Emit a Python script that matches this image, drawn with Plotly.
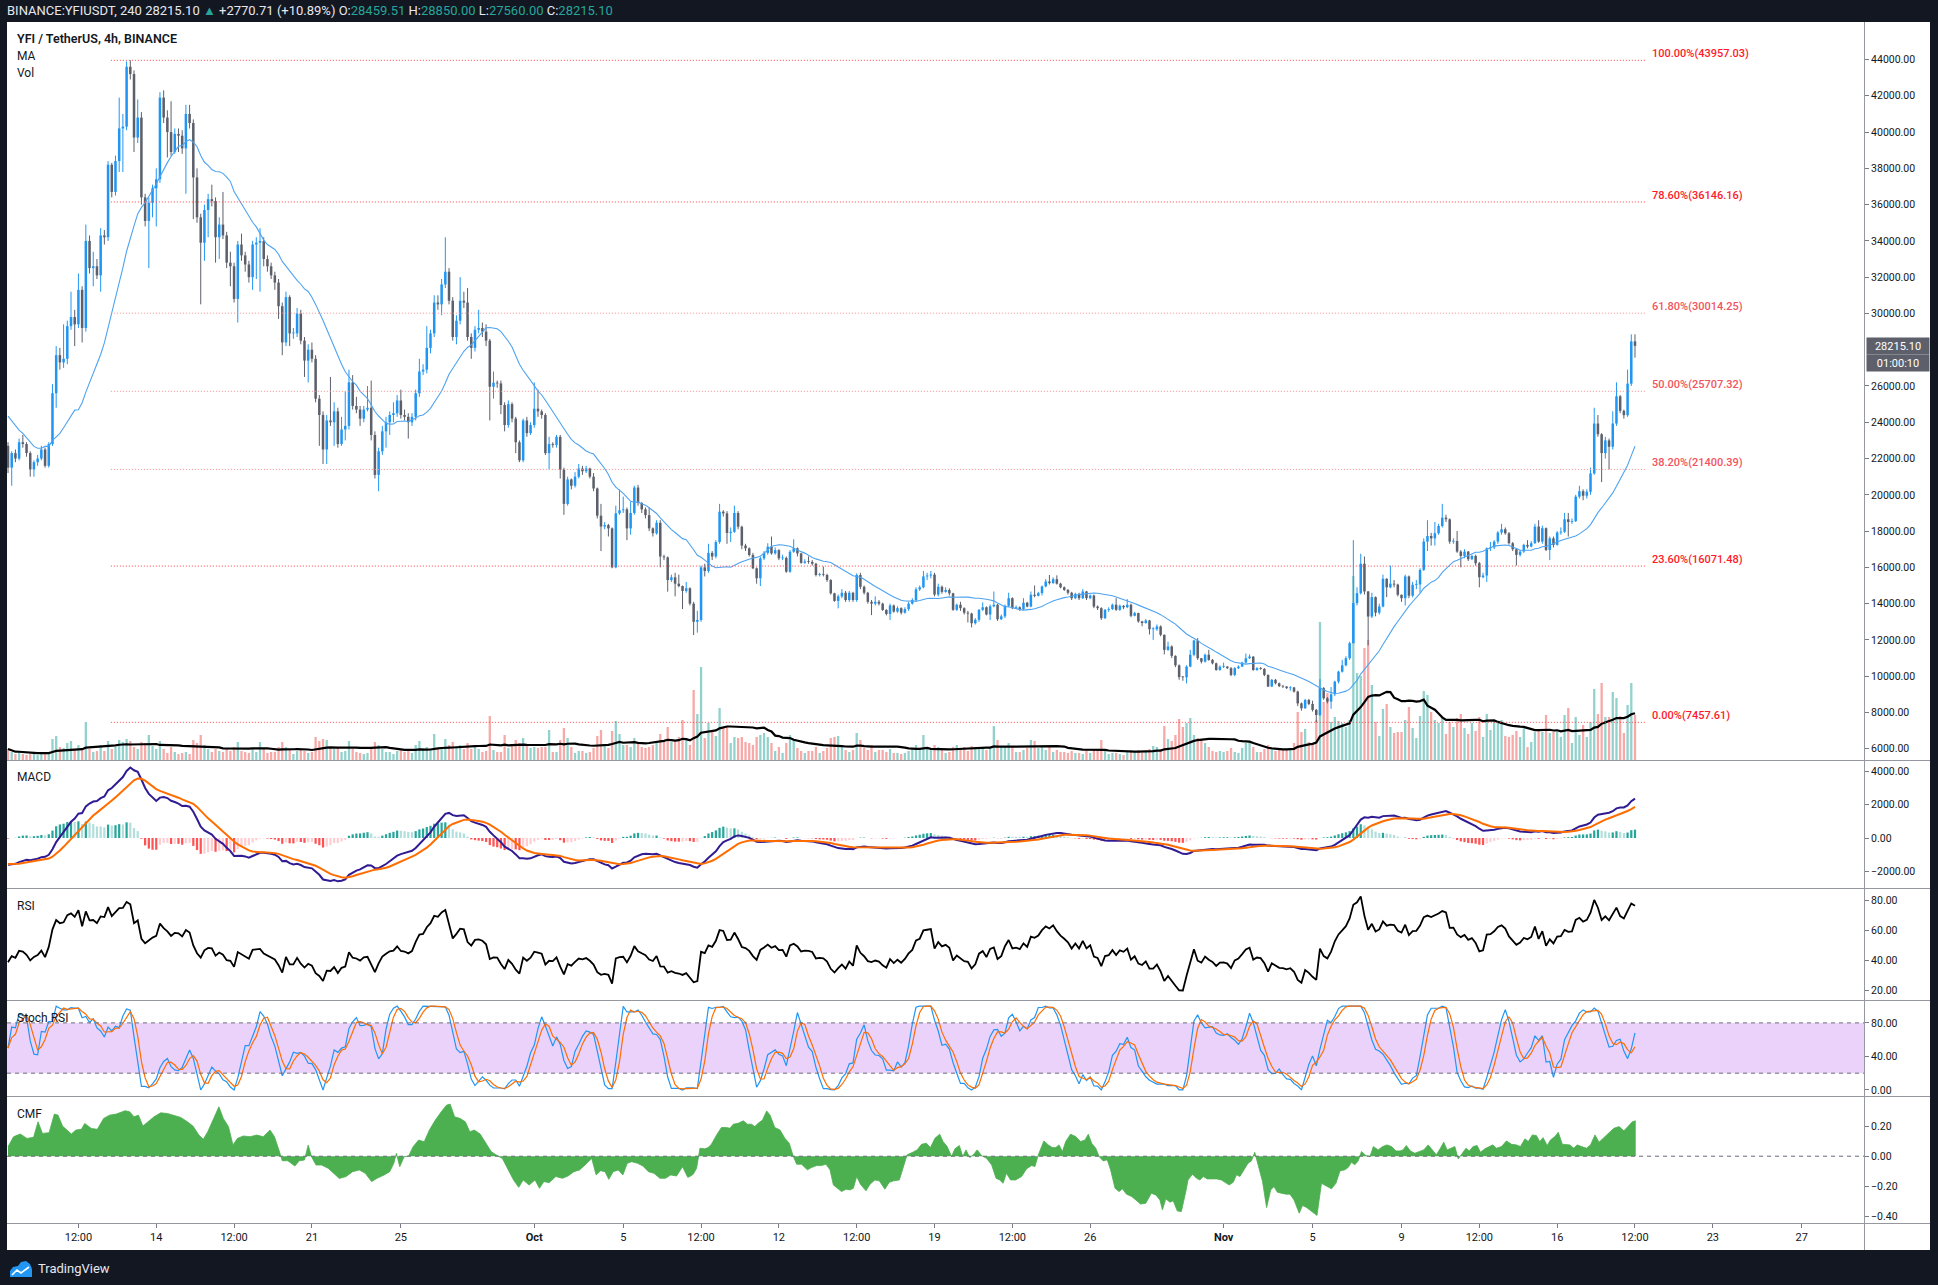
import numpy as np
import pandas as pd
import plotly.graph_objects as go

W, H = 1938, 1285

# ---------------- data ----------------
start_time = "2020-09-07 08:00"      # first visible 4h bar
first_open_k = 22.7

closes_k = [
    21.5, 22.3, 22.0, 22.9, 22.8, 22.3, 21.4, 21.8, 22.0, 22.5,
    21.6, 22.8, 25.6, 27.7, 27.3, 27.5, 29.3, 29.8, 29.4, 31.3,
    29.2, 34.0, 32.5, 32.6, 32.1, 34.3, 34.2, 38.2, 36.7, 38.4,
    40.2, 40.3, 43.6, 43.2, 39.7, 40.8, 36.4, 35.1, 36.1, 36.9,
    37.4, 41.9, 40.8, 40.0, 38.9, 39.9, 39.8, 39.1, 41.0, 40.5,
    37.5, 35.3, 33.9, 35.7, 36.3, 36.2, 34.2, 34.9, 34.3, 32.8,
    32.6, 30.8, 33.8, 33.2, 32.7, 32.0, 33.8, 33.9, 34.0, 33.0,
    32.6, 32.1, 31.7, 30.4, 28.4, 30.9, 28.9, 28.9, 30.0, 28.5,
    27.4, 28.0, 27.5, 25.3, 24.4, 22.5, 24.1, 24.0, 24.6, 22.8,
    23.6, 23.8, 26.2, 24.9, 24.7, 24.2, 24.7, 24.8, 23.3, 21.1,
    22.4, 23.5, 24.0, 24.4, 24.5, 25.2, 24.4, 24.3, 24.0, 24.3,
    25.6, 26.8, 26.9, 28.1, 28.9, 30.6, 30.5, 31.6, 32.3, 30.7,
    28.7, 29.6, 30.7, 30.6, 28.7, 28.1, 29.1, 29.2, 29.0, 28.5,
    25.96, 26.18, 26.14, 24.95, 23.85, 25.0, 24.2, 22.9, 21.9, 24.1,
    23.4, 23.85, 24.75, 24.6, 24.4, 22.3, 22.8, 22.75, 23.2, 21.4,
    19.5, 20.85, 20.5, 21.0, 21.45, 21.3, 21.45, 21.0, 20.35, 18.85,
    18.25, 18.33, 18.15, 16.0, 18.98, 19.15, 19.2, 18.15, 19.0, 20.4,
    19.55, 19.2, 18.88, 18.15, 17.88, 18.46, 16.6, 16.55, 15.3, 15.45,
    15.1, 14.97, 14.7, 14.85, 14.0, 13.0, 13.1, 16.0, 15.8, 16.8,
    16.6, 17.4, 19.07, 18.98, 17.9, 17.96, 19.0, 18.24, 17.2, 17.05,
    16.68, 15.95, 15.4, 16.5, 16.8, 17.14, 16.77, 16.95, 16.5, 16.52,
    15.76, 16.86, 17.05, 16.77, 16.25, 16.32, 16.3, 16.2, 15.58, 15.62,
    15.58, 15.3, 14.57, 14.15, 14.4, 14.6, 14.2, 14.6, 14.2, 15.58,
    14.93, 14.6, 14.1, 14.0, 14.1, 14.0, 13.65, 13.43, 13.9, 13.56,
    13.75, 13.5, 13.7, 14.0, 14.2, 14.79, 14.9, 15.5, 15.55, 15.6,
    14.5, 14.93, 14.65, 14.75, 14.57, 13.66, 13.94, 13.75, 13.5, 13.45,
    12.92, 13.11, 13.66, 13.8, 13.4, 13.85, 13.94, 13.14, 13.3, 13.88,
    14.3, 13.75, 13.8, 13.7, 14.05, 13.84, 14.49, 14.43, 14.58, 14.95,
    15.22, 15.13, 15.35, 15.1, 14.9, 14.76, 14.6, 14.3, 14.54, 14.3,
    14.67, 14.3, 14.45, 13.84, 13.75, 13.2, 13.66, 13.7, 13.94, 13.66,
    13.88, 13.8, 13.94, 13.33, 13.48, 13.02, 12.93, 13.07, 12.59, 12.59,
    12.74, 12.28, 11.45, 11.64, 11.12, 10.6, 9.95, 9.94, 10.53, 11.18,
    11.97, 10.99, 10.8, 11.18, 10.9, 10.71, 10.34, 10.52, 10.53, 10.44,
    10.07, 10.44, 10.53, 10.75, 10.99, 11.08, 10.34, 10.44, 10.4, 10.07,
    9.43, 9.8, 9.61, 9.45, 9.43, 9.34, 9.38, 9.15, 8.5, 8.23,
    8.69, 8.47, 8.14, 7.86, 9.34, 8.78, 8.6, 9.0, 9.7, 10.25,
    10.6, 10.99, 11.82, 14.03, 14.58, 16.2, 14.67, 13.29, 14.36, 13.5,
    13.84, 15.37, 14.9, 15.1, 15.05, 14.49, 14.3, 15.5, 14.44, 15.04,
    15.06, 15.86, 17.42, 17.73, 17.6, 17.88, 18.28, 18.74, 18.65, 17.42,
    17.45, 16.87, 16.63, 16.87, 16.45, 16.63, 16.23, 15.46, 15.55, 17.05,
    17.1, 17.42, 17.92, 18.1, 17.88, 17.33, 17.0, 16.69, 16.87, 17.24,
    17.15, 17.33, 18.25, 17.42, 18.16, 16.96, 17.6, 17.24, 17.92, 17.96,
    18.65, 18.5, 18.55, 19.9, 20.2, 19.95, 20.17, 21.18, 23.93, 23.34,
    22.3, 23.0, 22.65, 23.93, 25.43, 24.63, 24.39, 26.13, 28.45951, 28.2151,
]

highs_k = [
    22.9, 22.4, 22.5, 23.1, 23.3, 22.9, 22.4, 21.9, 22.2, 22.7,
    22.6, 22.9, 26.1, 28.2, 28.1, 29.4, 29.6, 31.2, 30.2, 32.2,
    31.5, 34.9, 34.3, 33.4, 33.0, 34.7, 34.6, 38.4, 38.3, 38.7,
    41.9, 41.0, 43.9, 43.96, 43.4, 41.8, 41.1, 36.6, 36.4, 37.1,
    38.0, 42.2, 42.3, 41.2, 41.7, 40.2, 40.2, 40.1, 41.5, 41.5,
    40.7, 38.0, 35.5, 36.0, 36.6, 37.1, 36.4, 35.3, 36.7, 34.5,
    33.4, 32.8, 34.0, 34.4, 33.4, 32.9, 34.0, 34.2, 34.7, 34.2,
    33.2, 32.8, 32.3, 31.9, 30.6, 31.2, 31.0, 29.2, 30.3, 30.2,
    28.7, 28.3, 28.4, 27.7, 25.5, 24.6, 24.4, 26.5, 25.1, 24.8,
    24.3, 25.7, 26.9, 26.6, 25.4, 24.9, 24.9, 26.0, 26.3, 23.5,
    22.6, 23.8, 24.3, 24.6, 25.1, 25.5, 25.8, 24.7, 24.5, 24.5,
    25.8, 27.5, 27.2, 29.3, 29.1, 31.0, 31.0, 31.9, 34.2, 32.5,
    30.9, 29.9, 32.0, 31.2, 31.4, 28.9, 29.3, 30.2, 29.5, 29.4,
    28.6, 26.8, 26.3, 26.3, 25.1, 25.2, 25.1, 24.3, 23.0, 24.2,
    24.3, 24.0, 26.2, 25.8, 24.7, 24.5, 23.2, 22.9, 23.3, 23.3,
    21.5, 21.0, 20.9, 21.25, 21.7, 21.6, 21.6, 21.5, 21.2, 20.4,
    19.5, 18.5, 18.4, 18.2, 19.4, 20.3, 19.9, 19.3, 19.6, 20.5,
    20.55, 19.6, 19.3, 19.3, 18.2, 18.6, 18.6, 16.7, 16.6, 15.6,
    15.7, 15.6, 15.0, 15.2, 14.9, 14.1, 13.6, 16.1, 16.2, 17.3,
    16.9, 17.5, 19.5, 19.15, 19.1, 18.2, 19.4, 19.1, 18.3, 17.3,
    17.1, 16.8, 16.0, 16.6, 16.9, 17.33, 17.7, 17.1, 17.0, 16.7,
    16.6, 16.95, 17.55, 17.1, 16.8, 16.45, 16.6, 16.4, 16.25, 15.7,
    16.05, 15.65, 15.35, 14.6, 14.5, 14.8, 14.7, 14.7, 14.65, 15.67,
    15.7, 15.0, 14.65, 14.2, 14.4, 14.2, 14.05, 13.7, 14.0, 13.95,
    13.85, 13.8, 13.8, 14.1, 14.3, 14.9, 15.0, 15.8, 15.7, 15.8,
    15.7, 15.1, 15.0, 14.9, 14.85, 14.6, 14.0, 14.1, 13.8, 13.6,
    13.5, 13.2, 13.7, 14.07, 13.85, 13.95, 14.67, 13.98, 13.4, 13.95,
    14.6, 14.35, 13.9, 13.85, 14.3, 14.1, 14.67, 15.0, 14.65, 15.0,
    15.35, 15.58, 15.45, 15.56, 15.15, 14.95, 14.8, 14.65, 14.6, 14.6,
    14.8, 14.7, 14.5, 14.5, 13.9, 13.8, 13.7, 13.8, 14.0, 14.3,
    13.95, 13.92, 14.25, 14.0, 13.55, 13.5, 13.05, 13.15, 13.1, 12.7,
    12.85, 12.8, 12.3, 11.9, 11.7, 11.15, 10.65, 10.0, 10.6, 11.45,
    12.0, 12.1, 11.0, 11.25, 11.45, 10.95, 10.75, 10.6, 10.75, 10.55,
    10.5, 10.5, 10.6, 10.8, 11.25, 11.2, 11.1, 10.5, 10.5, 10.45,
    10.1, 9.85, 9.85, 9.65, 9.5, 9.45, 9.45, 9.4, 9.2, 8.55,
    8.75, 8.75, 8.65, 8.2, 9.84, 9.4, 8.85, 9.4, 9.75, 10.3,
    10.9, 11.1, 11.9, 17.5, 14.9, 16.75, 16.6, 14.7, 14.6, 14.4,
    14.0, 15.6, 15.4, 16.1, 15.3, 15.1, 14.5, 15.6, 15.55, 15.2,
    15.3, 15.95, 17.6, 18.6, 17.9, 18.5, 18.4, 19.5, 18.9, 18.7,
    17.6, 18.0, 16.95, 17.0, 16.9, 16.7, 16.7, 16.3, 15.7, 17.1,
    17.4, 17.5, 18.0, 18.4, 18.2, 17.95, 17.4, 17.05, 16.95, 17.3,
    17.5, 17.45, 18.4, 18.6, 18.3, 18.2, 17.7, 17.7, 18.0, 18.2,
    19.0, 19.0, 18.7, 20.0, 20.5, 20.3, 20.3, 21.5, 24.8, 24.4,
    23.4, 23.2, 23.1, 24.6, 26.2, 25.5, 24.7, 26.9, 28.85, 28.85,
]

lows_k = [
    21.2, 20.5, 21.8, 21.9, 22.6, 22.1, 21.0, 21.0, 21.6, 21.9,
    21.5, 21.5, 22.7, 24.8, 26.9, 27.0, 27.2, 29.1, 28.2, 29.2,
    28.4, 29.0, 32.2, 31.5, 31.9, 31.2, 33.8, 34.0, 36.4, 36.5,
    37.8, 37.8, 40.1, 42.9, 38.9, 39.4, 36.0, 34.8, 32.5, 35.3,
    34.8, 37.2, 40.5, 38.6, 38.7, 38.8, 38.9, 38.8, 36.6, 40.2,
    35.2, 35.0, 30.5, 32.9, 34.2, 35.9, 32.8, 33.0, 34.1, 32.5,
    31.5, 30.6, 29.5, 32.9, 32.3, 31.7, 31.3, 31.9, 31.2, 32.6,
    32.3, 31.9, 31.3, 29.7, 27.7, 28.2, 28.2, 28.6, 28.7, 28.3,
    26.5, 26.2, 27.3, 25.1, 22.7, 21.7, 21.7, 23.8, 22.7, 22.6,
    22.7, 23.0, 23.6, 24.7, 24.5, 23.8, 24.0, 24.6, 23.0, 20.9,
    20.2, 22.2, 22.6, 23.3, 24.0, 24.3, 24.2, 24.1, 23.1, 23.8,
    24.1, 25.4, 26.6, 26.7, 27.8, 28.7, 30.2, 29.9, 31.4, 30.5,
    28.5, 28.3, 29.4, 30.3, 28.5, 27.5, 27.9, 28.9, 28.7, 28.2,
    24.1, 25.3, 25.9, 24.45, 23.5, 23.7, 24.0, 22.3, 21.8, 21.8,
    23.2, 23.3, 23.7, 24.3, 24.2, 22.2, 21.4, 22.6, 22.6, 20.9,
    18.9, 19.4, 20.3, 20.4, 20.9, 21.1, 21.2, 20.9, 20.2, 18.7,
    16.9, 18.1, 17.7, 15.95, 15.95, 18.9, 19.0, 17.5, 17.8, 18.9,
    19.4, 19.0, 18.7, 18.0, 17.7, 17.8, 16.0, 16.4, 14.66, 15.2,
    14.4, 14.9, 13.7, 14.6, 13.9, 12.27, 12.4, 13.0, 15.5, 15.7,
    16.4, 16.5, 17.3, 18.8, 17.3, 17.4, 17.9, 18.1, 17.0, 16.9,
    16.6, 15.9, 15.1, 14.97, 16.4, 16.7, 16.7, 16.7, 16.4, 16.4,
    15.7, 15.7, 16.8, 16.6, 16.2, 16.2, 16.2, 16.1, 15.5, 15.5,
    15.5, 15.2, 14.5, 14.1, 13.74, 14.3, 14.1, 14.1, 14.1, 14.1,
    14.8, 14.5, 14.0, 13.37, 13.9, 13.9, 13.6, 13.35, 13.1, 13.5,
    13.5, 13.4, 13.45, 13.6, 13.95, 14.1, 14.7, 14.85, 15.3, 15.4,
    14.4, 14.4, 14.55, 14.6, 14.45, 13.6, 13.6, 13.6, 13.4, 12.96,
    12.69, 12.85, 13.0, 13.6, 13.35, 13.1, 13.8, 13.05, 13.1, 13.2,
    13.8, 13.7, 13.7, 13.6, 13.65, 13.8, 13.8, 14.35, 14.4, 14.45,
    14.9, 15.05, 15.1, 15.05, 14.85, 14.7, 14.5, 14.2, 14.25, 14.2,
    14.25, 14.2, 14.25, 13.75, 13.65, 13.1, 13.15, 13.55, 13.65, 13.6,
    13.6, 13.7, 13.75, 13.25, 13.3, 12.95, 12.75, 12.9, 12.3, 12.0,
    12.5, 12.2, 11.2, 11.4, 11.0, 10.5, 9.8, 9.75, 9.6, 10.5,
    11.1, 10.9, 10.7, 10.75, 10.85, 10.65, 10.3, 10.3, 10.45, 10.4,
    10.0, 10.0, 10.4, 10.5, 10.7, 10.95, 10.3, 10.3, 10.35, 10.0,
    9.4, 9.4, 9.55, 9.4, 9.35, 9.3, 9.2, 9.1, 8.35, 8.1,
    8.2, 8.4, 8.05, 7.45761, 7.8, 8.7, 8.5, 8.2, 8.9, 9.6,
    10.2, 10.55, 10.9, 11.8, 13.9, 14.5, 14.5, 11.7, 13.2, 13.3,
    13.4, 13.8, 14.36, 14.85, 14.9, 14.4, 14.1, 13.9, 14.3, 14.35,
    14.8, 14.6, 15.8, 16.9, 17.2, 17.2, 17.8, 18.2, 18.5, 17.3,
    17.3, 16.8, 16.0, 16.5, 16.35, 16.4, 16.1, 14.9, 15.4, 15.2,
    16.9, 17.0, 17.3, 17.8, 17.8, 17.25, 16.9, 16.1, 16.6, 16.8,
    17.05, 17.1, 17.3, 17.35, 17.3, 16.9, 16.4, 17.1, 17.2, 17.8,
    17.9, 17.7, 18.4, 18.5, 19.8, 19.7, 19.8, 20.0, 21.1, 23.2,
    20.7, 22.0, 21.4, 22.5, 23.8, 24.5, 24.2, 24.3, 26.0, 27.56,
]

# volume (relative units, read as bar heights)
volume = [
    11, 8, 6, 8, 6, 5, 6, 7, 5, 6,
    7, 8, 21, 24, 13, 12, 17, 19, 11, 15,
    12, 38, 11, 8, 9, 15, 9, 19, 11, 13,
    20, 18, 21, 19, 13, 11, 18, 17, 25, 14,
    11, 19, 11, 7, 13, 8, 6, 7, 8, 6,
    20, 17, 25, 15, 11, 8, 11, 9, 8, 11,
    9, 13, 18, 9, 8, 7, 11, 8, 18, 11,
    7, 8, 8, 13, 18, 13, 11, 6, 9, 11,
    9, 7, 8, 23, 19, 21, 20, 13, 11, 13,
    8, 9, 19, 11, 8, 7, 6, 7, 11, 18,
    15, 11, 8, 8, 6, 9, 11, 8, 9, 7,
    15, 19, 11, 13, 11, 26, 11, 13, 21, 15,
    18, 13, 15, 11, 17, 11, 13, 11, 8, 9,
    44, 10, 8, 8, 25, 12, 15, 20, 17, 22,
    15, 12, 13, 12, 13, 13, 30, 8, 8, 20,
    32, 22, 13, 7, 9, 9, 7, 8, 12, 24,
    30, 15, 12, 29, 39, 26, 15, 15, 13, 22,
    17, 13, 12, 13, 15, 17, 26, 18, 33, 18,
    20, 23, 40, 22, 15, 70, 46, 93, 22, 37,
    29, 24, 52, 32, 33, 17, 23, 22, 23, 18,
    17, 15, 23, 25, 27, 23, 17, 9, 13, 7,
    17, 25, 20, 12, 9, 7, 9, 9, 13, 7,
    9, 12, 22, 23, 24, 13, 10, 8, 10, 27,
    20, 12, 10, 15, 8, 10, 10, 8, 11, 7,
    7, 6, 7, 9, 12, 15, 10, 25, 12, 10,
    15, 13, 10, 7, 8, 13, 15, 12, 13, 9,
    14, 12, 13, 13, 10, 13, 34, 20, 13, 13,
    17, 13, 8, 8, 10, 12, 20, 19, 12, 13,
    10, 13, 8, 10, 8, 8, 7, 9, 7, 7,
    6, 10, 7, 11, 9, 20, 9, 6, 7, 7,
    6, 5, 8, 10, 8, 10, 7, 8, 11, 14,
    13, 11, 34, 21, 19, 25, 41, 33, 37, 42,
    25, 22, 20, 17, 13, 9, 8, 9, 8, 9,
    12, 8, 7, 12, 17, 19, 13, 8, 8, 11,
    15, 10, 9, 10, 10, 10, 11, 17, 48, 28,
    31, 18, 17, 40, 138, 58, 67, 38, 43, 39,
    37, 33, 40, 184, 87, 84, 112, 120, 75, 38,
    24, 51, 56, 33, 27, 28, 28, 40, 53, 32,
    22, 44, 69, 65, 48, 40, 37, 43, 26, 38,
    33, 42, 46, 32, 26, 37, 29, 43, 23, 46,
    30, 39, 39, 40, 24, 23, 25, 29, 23, 32,
    13, 18, 28, 30, 28, 45, 27, 28, 28, 23,
    45, 52, 17, 43, 25, 35, 23, 38, 71, 46,
    77, 43, 43, 68, 62, 44, 27, 55, 77, 45,
]

# MA values at the left edge (history before the visible window)
ma_head_k = [24.34, 24.08, 23.77, 23.57, 23.39, 23.13, 22.87, 22.67, 22.57, 22.57,
             22.67, 22.67, 23.0, 23.18, 23.39, 23.7, 24.03, 24.34, 24.67]

# indicator states at the left edge
macd_seed = {"ema12": 23740.0, "ema26": 25270.0, "signal": -1550.0}
rsi_seed = {"avg_gain": 330.0, "avg_loss": 520.0}

# Chaikin Money Flow (position in bars from the first bar, value)
cmf_pos = [
    0.0, 1.5, 3.3, 5.1, 6.9, 8.1, 9.3, 11.1, 12.5, 13.5, 14.7, 15.9, 17.1, 18.3, 19.8, 20.7,
    22.5, 24.1, 25.8, 27.4, 29.2, 31.6, 32.8, 34.0, 35.2, 36.4, 37.8, 39.4, 41.2, 43.0, 44.8,
    46.6, 48.4, 49.9, 51.5, 52.7, 53.9, 55.4, 56.9, 58.1, 59.5, 60.7, 61.9, 63.5, 65.3, 67.1,
    68.9, 70.7, 71.9, 73.1, 74.0, 75.5, 77.4, 78.6, 80.0, 81.0, 81.9, 83.1, 84.6, 86.4, 88.0,
    89.4, 91.2, 93.0, 94.8, 96.4, 98.1, 99.6, 101.5, 103.0, 104.1, 104.8, 105.7, 106.9, 108.1,
    109.3, 110.8, 112.3, 113.7, 115.3, 116.9, 118.3, 119.3, 120.5, 122.0, 123.4, 124.6, 125.8,
    127.4, 129.0, 130.4, 132.2, 133.4, 135.0, 136.4, 137.8, 139.0, 140.6, 142.2, 143.4, 144.6,
    146.0, 147.8, 149.6, 151.1, 152.7, 154.2, 155.7, 156.9, 157.5, 158.7, 159.9, 161.1, 162.1,
    163.3, 164.7, 165.9, 167.1, 168.3, 169.9, 171.3, 172.8, 174.3, 175.9, 177.4, 178.8, 180.4,
    182.0, 183.4,
    184.0, 184.9, 185.8, 186.7, 188.0, 188.9, 189.8, 191.2, 192.5, 193.9, 194.8, 195.7, 197.0,
    198.4, 199.5, 200.6, 201.5, 202.4, 203.6, 204.7, 205.6, 206.9, 208.3, 209.6, 210.8, 211.9,
    212.8, 214.1, 215.7, 216.8, 218.2, 219.5, 220.7, 221.8, 222.7, 224.0, 224.9, 226.1, 227.2,
    228.1, 229.0, 230.0, 231.5, 232.6, 233.9, 235.1, 236.6, 237.8, 239.0, 240.5, 241.6, 242.6,
    244.1, 245.3, 246.5, 247.8, 248.9, 250.1, 251.4, 252.3, 253.4, 254.6, 255.5, 256.7, 257.6,
    258.5, 259.5, 260.6, 261.5, 262.7, 264.0, 265.4, 266.6, 267.6, 268.5, 269.4, 270.5, 271.9,
    273.5, 274.8, 276.2, 277.1, 278.0, 279.5, 280.7, 281.8, 282.7, 283.6, 284.5, 285.4, 286.7,
    288.1, 289.4, 290.6, 291.5, 292.4, 293.5, 294.4, 295.5, 296.6, 297.5, 298.7, 299.8, 300.7,
    301.8, 303.2, 304.3, 305.6, 307.0, 308.5, 309.7, 310.8, 311.5, 312.4,
    313.5, 314.4, 315.5, 316.6, 317.8, 318.4, 319.6, 320.7, 321.6, 322.5, 323.6, 324.7, 326.1,
    327.4, 328.3, 329.5, 330.6, 331.5, 332.4, 333.5, 334.6, 335.5, 336.4, 337.3, 338.5, 339.6,
    340.7, 341.6, 342.5, 343.6, 344.8, 345.9, 347.0, 348.4, 349.3, 350.4, 351.7, 353.2, 354.4,
    355.6, 357.1, 358.3, 359.4, 360.7, 361.6, 362.5, 363.4, 364.3, 365.2, 366.4, 367.5, 368.4,
    369.7, 370.9, 372.1, 373.3, 374.5, 375.6, 376.4, 377.3, 378.4, 379.6, 381.0, 382.0, 383.2,
    384.5, 385.4, 386.5, 387.4, 388.3, 389.5, 390.4, 391.3, 392.5, 393.4, 394.3, 395.3, 396.4,
    397.3, 398.5, 399.7, 400.6, 401.6, 403.0, 404.3, 405.7, 407.0, 408.1, 409.3, 410.2, 411.3,
    412.4, 413.3, 414.2, 415.3, 416.2, 417.4, 418.3, 419.4, 420.5, 421.4, 422.5, 423.4, 424.6,
    425.9, 427.0, 428.2, 429.3, 430.4, 431.8, 433.3, 434.7, 436.0, 437.1, 438.3, 439.2,
]
cmf_val = [
    0.063, 0.129, 0.147, 0.118, 0.125, 0.228, 0.151, 0.156, 0.279, 0.272, 0.200, 0.173, 0.147,
    0.173, 0.178, 0.217, 0.184, 0.178, 0.250, 0.272, 0.279, 0.301, 0.295, 0.261, 0.272, 0.200,
    0.229, 0.261, 0.287, 0.283, 0.270, 0.257, 0.228, 0.200, 0.140, 0.112, 0.162, 0.250, 0.327,
    0.250, 0.195, 0.074, 0.118, 0.134, 0.129, 0.140, 0.129, 0.173, 0.129, 0.041, -0.030, -0.030,
    -0.065, -0.030, -0.025, 0.074, -0.003, -0.058, -0.058, -0.080, -0.118, -0.147, -0.135,
    -0.102, -0.091, -0.113, -0.168, -0.146, -0.124, -0.102, -0.047, 0.019, -0.069, -0.003,
    0.001, 0.063, 0.107, 0.096, 0.173, 0.239, 0.294, 0.338, 0.345, 0.261, 0.250, 0.228, 0.162,
    0.173, 0.147, 0.085, 0.030, 0.001, -0.015, -0.091, -0.157, -0.206, -0.157, -0.191, -0.157,
    -0.212, -0.168, -0.175, -0.135, -0.146, -0.131, -0.102, -0.091, -0.058, -0.030, -0.015,
    -0.124, -0.096, -0.102, -0.153, -0.102, -0.091, -0.124, -0.047, -0.036, -0.047, -0.065,
    -0.102, -0.113, -0.146, -0.146, -0.124, -0.131, -0.069, -0.140,
    -0.134, -0.119, -0.079, 0.053, 0.049, 0.057, 0.079, 0.141, 0.190, 0.190, 0.185, 0.212,
    0.218, 0.234, 0.212, 0.212, 0.196, 0.218, 0.240, 0.300, 0.273, 0.190, 0.174, 0.119, 0.086,
    -0.002, -0.053, -0.053, -0.090, -0.075, -0.062, -0.062, -0.053, -0.090, -0.190, -0.216,
    -0.234, -0.218, -0.223, -0.212, -0.134, -0.185, -0.229, -0.185, -0.157, -0.163, -0.218,
    -0.172, -0.163, -0.157, -0.068, 0.009, 0.026, 0.042, 0.079, 0.086, 0.057, 0.119, 0.146,
    0.097, 0.064, -0.002, 0.049, 0.071, -0.002, 0.042, -0.009, 0.013, 0.042, 0.004, -0.013,
    -0.057, -0.146, -0.157, -0.179, -0.112, -0.157, -0.157, -0.134, -0.084, -0.062, -0.068,
    0.009, 0.101, 0.075, 0.057, 0.057, 0.075, 0.031, 0.097, 0.146, 0.130, 0.097, 0.108, 0.146,
    0.086, 0.053, -0.002, -0.031, -0.024, -0.090, -0.212, -0.234, -0.216, -0.251, -0.267,
    -0.289, -0.317, -0.311, -0.245, -0.256, -0.289, -0.355, -0.282,
    -0.304, -0.295, -0.362, -0.366, -0.234, -0.157, -0.119, -0.146, -0.157, -0.134, -0.150,
    -0.150, -0.150, -0.157, -0.172, -0.190, -0.172, -0.123, -0.134, -0.090, -0.046, -0.031,
    0.026, -0.057, -0.168, -0.340, -0.223, -0.201, -0.238, -0.245, -0.251, -0.251, -0.289,
    -0.377, -0.326, -0.340, -0.366, -0.392, -0.179, -0.194, -0.216, -0.179, -0.097, -0.090,
    -0.075, -0.040, -0.057, -0.031, 0.031, 0.004, -0.002, 0.064, 0.042, 0.064, 0.075, 0.064,
    0.035, 0.035, 0.042, 0.071, 0.035, 0.020, 0.035, 0.042, 0.075, 0.035, 0.009, 0.053, 0.093,
    0.042, 0.053, 0.064, -0.018, 0.020, 0.053, 0.035, 0.064, 0.071, 0.026, 0.049, 0.064, 0.075,
    0.053, 0.064, 0.101, 0.079, 0.075, 0.064, 0.115, 0.097, 0.141, 0.137, 0.097, 0.123, 0.071,
    0.108, 0.130, 0.159, 0.079, 0.079, 0.075, 0.053, 0.075, 0.064, 0.053, 0.075, 0.141, 0.093,
    0.119, 0.146, 0.185, 0.196, 0.168, 0.196, 0.229, 0.234,
]

fib_pct = ["100.00%", "78.60%", "61.80%", "50.00%", "38.20%", "23.60%", "0.00%"]
fib_price = [43957.03, 36146.16, 30014.25, 25707.32, 21400.39, 16071.48, 7457.61]
fib_color = ["#ff1a2b", "#ff1a2b", "#f2545e", "#f2545e", "#f2545e", "#ff1a2b", "#ff1a2b"]
fib_line_color = ["#ff4040", "#ff4040", "#f58a8a", "#f58a8a", "#f58a8a", "#ff4040", "#ff4040"]
fib_start, fib_end = "2020-09-11 23:00", "2020-11-20 00:00"

x_tick_times = ["2020-09-10 12:00", "2020-09-14", "2020-09-17 12:00", "2020-09-21", "2020-09-25",
                "2020-10-01", "2020-10-05", "2020-10-08 12:00", "2020-10-12", "2020-10-15 12:00",
                "2020-10-19", "2020-10-22 12:00", "2020-10-26", "2020-11-01", "2020-11-05",
                "2020-11-09", "2020-11-12 12:00", "2020-11-16", "2020-11-19 12:00", "2020-11-23",
                "2020-11-27"]
x_tick_text = ["12:00", "14", "12:00", "21", "25", "<b>Oct</b>", "5", "12:00", "12", "12:00",
               "19", "12:00", "26", "<b>Nov</b>", "5", "9", "12:00", "16", "12:00", "23", "27"]
price_ticks = [6000, 8000, 10000, 12000, 14000, 16000, 18000, 20000, 22000, 24000, 26000,
               30000, 32000, 34000, 36000, 38000, 40000, 42000, 44000]
macd_ticks = [-2000, 0, 2000, 4000]
rsi_ticks = [20, 40, 60, 80]
stoch_ticks = [0, 40, 80]
cmf_ticks = [-0.4, -0.2, 0, 0.2]

last_price = 28215.10
countdown = "01:00:10"
header_parts = [("BINANCE:YFIUSDT, 240 ", "#e6e8ee"), ("28215.10 ", "#e6e8ee"), ("▲ ", "#26a69a"),
                ("+2770.71 (+10.89%) ", "#e6e8ee"), ("O:", "#e6e8ee"), ("28459.51 ", "#26a69a"),
                ("H:", "#e6e8ee"), ("28850.00 ", "#26a69a"), ("L:", "#e6e8ee"), ("27560.00 ", "#26a69a"),
                ("C:", "#e6e8ee"), ("28215.10", "#26a69a")]

# ---------------- derived series ----------------
n = len(closes_k)
assert len(highs_k) == n and len(lows_k) == n and len(volume) == n
assert len(cmf_pos) == len(cmf_val), (len(cmf_pos), len(cmf_val))
t0 = pd.Timestamp(start_time)
t = pd.date_range(start_time, periods=n, freq="4h")
tx = list(t.to_pydatetime())
c = np.array(closes_k) * 1000.0
o = np.concatenate([[first_open_k * 1000.0], c[:-1]])
hgh = np.maximum(np.array(highs_k) * 1000.0, np.maximum(o, c))
low = np.minimum(np.array(lows_k) * 1000.0, np.minimum(o, c))
v = np.array(volume, dtype=float)
up = c >= o

ma = pd.Series(c).rolling(20).mean().to_numpy()
ma[:len(ma_head_k)] = np.array(ma_head_k) * 1000.0
vol_ma = pd.Series(v).rolling(20, min_periods=1).mean().to_numpy()


def ema(x, span, seed):
    a = 2.0 / (span + 1.0)
    out = np.empty(len(x))
    prev = seed
    for i, xi in enumerate(x):
        prev = a * xi + (1 - a) * prev
        out[i] = prev
    return out


macd = ema(c, 12, macd_seed["ema12"]) - ema(c, 26, macd_seed["ema26"])
signal = ema(macd, 9, macd_seed["signal"])
hist = macd - signal
hist_col = []
for i in range(n):
    prev = hist[i - 1] if i > 0 else hist[i]
    if hist[i] >= 0:
        hist_col.append("#26a69a" if hist[i] > prev else "#b2dfdb")
    else:
        hist_col.append("#ffcdd2" if hist[i] > prev else "#ff5252")

ag, al = rsi_seed["avg_gain"], rsi_seed["avg_loss"]
rsi = [100 - 100 / (1 + ag / al)]
for i in range(1, n):
    d = c[i] - c[i - 1]
    ag = (ag * 13 + max(d, 0)) / 14
    al = (al * 13 + max(-d, 0)) / 14
    rsi.append(100 - 100 / (1 + ag / al) if al > 0 else 100)
rs = pd.Series(rsi)
lo14 = rs.rolling(14, min_periods=1).min()
hi14 = rs.rolling(14, min_periods=1).max()
stoch = ((rs - lo14) / (hi14 - lo14) * 100).fillna(50)
k_line = stoch.rolling(3, min_periods=1).mean()
d_line = k_line.rolling(3, min_periods=1).mean()

cmf_t = [(t0 + pd.Timedelta(hours=4 * p)).to_pydatetime() for p in cmf_pos]

# ---------------- figure ----------------
UP, DN = "#2196f3", "#5d606b"
VUP, VDN = "#92d2cc", "#f7a9a7"
BAR_MS = 4 * 3600 * 1000
FONT = "Roboto"
TXT = "#131722"

fig = go.Figure()

# volume (base axis of main pane)
fig.add_trace(go.Bar(x=tx, y=v, xaxis="x", yaxis="y", width=0.62 * BAR_MS,
                     marker=dict(color=[VUP if u else VDN for u in up], line_width=0),
                     hoverinfo="skip"))
fig.add_trace(go.Scatter(x=tx, y=vol_ma, xaxis="x", yaxis="y", mode="lines",
                         line=dict(color="#000000", width=2.2), hoverinfo="skip"))

# candle wicks
for mask, col in ((up, UP), (~up, DN)):
    wx, wy = [], []
    for i in np.where(mask)[0]:
        wx += [tx[i], tx[i], None]
        wy += [low[i], hgh[i], None]
    fig.add_trace(go.Scatter(x=wx, y=wy, xaxis="x", yaxis="y2", mode="lines",
                             line=dict(color=col, width=1), hoverinfo="skip"))
# candle bodies
body_base = np.minimum(o, c)
body_h = np.maximum(np.abs(c - o), 45.0)
fig.add_trace(go.Bar(x=tx, y=body_h, base=body_base, xaxis="x", yaxis="y2", width=0.68 * BAR_MS,
                     marker=dict(color=[UP if u else DN for u in up], line_width=0),
                     hoverinfo="skip"))
fig.add_trace(go.Scatter(x=tx, y=ma, xaxis="x", yaxis="y2", mode="lines",
                         line=dict(color="#4ea3f1", width=1.1), hoverinfo="skip"))

# MACD
fig.add_trace(go.Bar(x=tx, y=hist, xaxis="x", yaxis="y3", width=0.6 * BAR_MS,
                     marker=dict(color=hist_col, line_width=0), hoverinfo="skip"))
fig.add_trace(go.Scatter(x=tx, y=macd, xaxis="x", yaxis="y3", mode="lines",
                         line=dict(color="#311b92", width=2), hoverinfo="skip"))
fig.add_trace(go.Scatter(x=tx, y=signal, xaxis="x", yaxis="y3", mode="lines",
                         line=dict(color="#ff6d00", width=2), hoverinfo="skip"))
# RSI
fig.add_trace(go.Scatter(x=tx, y=rsi, xaxis="x", yaxis="y4", mode="lines",
                         line=dict(color="#000000", width=1.8), hoverinfo="skip"))
# Stoch RSI
fig.add_trace(go.Scatter(x=tx, y=k_line, xaxis="x", yaxis="y5", mode="lines",
                         line=dict(color="#2196f3", width=1.2), hoverinfo="skip"))
fig.add_trace(go.Scatter(x=tx, y=d_line, xaxis="x", yaxis="y5", mode="lines",
                         line=dict(color="#ff6d00", width=1.2), hoverinfo="skip"))
# CMF
fig.add_trace(go.Scatter(x=cmf_t, y=cmf_val, xaxis="x", yaxis="y6", mode="lines", fill="tozeroy",
                         fillcolor="#4caf50", line=dict(color="#4caf50", width=0.8),
                         hoverinfo="skip"))


def PX(x):
    return x / W


def PY(y):
    return 1 - y / H


X0, X1 = 7, 1864
panes = {"main": (22, 760), "macd": (761, 888), "rsi": (889, 1000), "stoch": (1001, 1096), "cmf": (1097, 1223)}


def dom(name):
    a, b = panes[name]
    return [PY(b), PY(a)]


tickfont = dict(family=FONT, size=10.5, color=TXT)
yax_common = dict(showgrid=False, zeroline=False, showline=False, ticks="outside", ticklen=4,
                  tickcolor="#787b86", side="right", anchor="x", tickfont=tickfont,
                  tickformat=".2f", fixedrange=True)

layout = dict(
    width=W, height=H, margin=dict(l=0, r=0, t=0, b=0),
    paper_bgcolor="#ffffff", plot_bgcolor="#ffffff",
    showlegend=False, barmode="overlay", hovermode=False,
    font=dict(family=FONT, color=TXT),
    xaxis=dict(domain=[PX(X0), PX(X1)], anchor="y6", type="date",
               range=["2020-09-07 06:55", "2020-11-29 19:10"],
               tickvals=x_tick_times, ticktext=x_tick_text, ticks="outside", ticklen=4,
               tickcolor="#787b86", showgrid=False, zeroline=False, showline=False,
               tickfont=dict(family=FONT, size=11, color=TXT), fixedrange=True),
    yaxis=dict(domain=dom("main"), range=[0, 738], visible=False, anchor="x", fixedrange=True),
    yaxis2=dict(yax_common, overlaying="y", domain=dom("main"), range=[5379, 46069],
                tickvals=price_ticks),
    yaxis3=dict(yax_common, domain=dom("macd"), range=[-2994, 4611], tickvals=macd_ticks),
    yaxis4=dict(yax_common, domain=dom("rsi"), range=[13.9, 87.3], tickvals=rsi_ticks),
    yaxis5=dict(yax_common, domain=dom("stoch"), range=[-7.2, 106.1], tickvals=stoch_ticks),
    yaxis6=dict(yax_common, domain=dom("cmf"), range=[-0.442, 0.392], tickvals=cmf_ticks),
)
fig.update_layout(**layout)

shapes = []
# stoch band and levels
shapes.append(dict(type="rect", xref="x domain", yref="y5", x0=0, x1=1, y0=20, y1=80,
                   fillcolor="#ead2fb", line_width=0, layer="below"))
for lvl in (20, 80):
    shapes.append(dict(type="line", xref="x domain", yref="y5", x0=0, x1=1, y0=lvl, y1=lvl,
                       line=dict(color="#6a6d78", width=1, dash="4px,4px")))
shapes.append(dict(type="line", xref="x domain", yref="y6", x0=0, x1=1, y0=0, y1=0,
                   line=dict(color="#6a6d78", width=1, dash="4px,4px")))
# fib levels
for p, lc in zip(fib_price, fib_line_color):
    shapes.append(dict(type="line", xref="x", yref="y2", x0=fib_start, x1=fib_end, y0=p, y1=p,
                       line=dict(color=lc, width=1, dash="1px,2px")))
# pane separators and price-axis border
SEP = "#9598a1"
for yb in (760.5, 888.5, 1000.5, 1096.5, 1223.5):
    shapes.append(dict(type="line", xref="paper", yref="paper", x0=PX(X0), x1=PX(1930),
                       y0=PY(yb), y1=PY(yb), line=dict(color=SEP, width=1)))
shapes.append(dict(type="line", xref="paper", yref="paper", x0=PX(1864.5), x1=PX(1864.5),
                   y0=PY(22), y1=PY(1250), line=dict(color=SEP, width=1)))
# dark frame
FR = "#131722"
for (xa, ya, xb, yb) in ((0, 0, W, 22), (0, 0, 7, H), (1930, 0, W, H), (0, 1250, W, H)):
    shapes.append(dict(type="rect", xref="paper", yref="paper", x0=PX(xa), x1=PX(xb),
                       y0=PY(yb), y1=PY(ya), fillcolor=FR, line_width=0, layer="above"))
# TradingView logo cloud
cloud = [(10, 1277), (10, 1271), (13, 1267), (18, 1266), (21, 1262), (26, 1261), (30, 1264),
         (32, 1269), (32, 1277)]
path = "M " + " L ".join(f"{PX(a):.5f},{PY(b):.5f}" for a, b in cloud) + " Z"
shapes.append(dict(type="path", xref="paper", yref="paper", path=path, fillcolor="#2196f3",
                   line_width=0, layer="above"))
zig = [(12, 1275), (17, 1270), (21, 1273), (29, 1267)]
shapes.append(dict(type="path", xref="paper", yref="paper",
                   path="M " + " L ".join(f"{PX(a):.5f},{PY(b):.5f}" for a, b in zig),
                   line=dict(color="#ffffff", width=1.6), layer="above"))
fig.update_layout(shapes=shapes)

ann = []
header = "".join(f'<span style="color:{col}">{txt}</span>' for txt, col in header_parts)
ann.append(dict(xref="paper", yref="paper", x=PX(5), y=PY(11), xanchor="left", yanchor="middle",
                text=header, showarrow=False, font=dict(family=FONT, size=13, color="#e6e8ee")))
ann.append(dict(xref="paper", yref="paper", x=PX(36), y=PY(1268), xanchor="left", yanchor="middle",
                text="TradingView", showarrow=False, font=dict(family=FONT, size=13, color="#e6e8ee")))
legend_items = [("YFI / TetherUS, 4h, BINANCE", 38, 12.5, 600), ("MA", 56, 12, 400), ("Vol", 73, 12, 400),
                ("MACD", 777, 12, 400), ("RSI", 906, 12, 400), ("Stoch RSI", 1018, 12, 400),
                ("CMF", 1114, 12, 400)]
for txt, yy, sz, wt in legend_items:
    ann.append(dict(xref="paper", yref="paper", x=PX(15), y=PY(yy), xanchor="left", yanchor="middle",
                    text=txt, showarrow=False, font=dict(family=FONT, size=sz, color=TXT, weight=wt)))
for pct, p, col in zip(fib_pct, fib_price, fib_color):
    ann.append(dict(xref="x", yref="y2", x=fib_end, y=p, xanchor="left", yanchor="bottom", xshift=4,
                    yshift=-2, text=f"{pct}({p:.2f})", showarrow=False,
                    font=dict(family=FONT, size=11, color=col, weight=500)))
ann.append(dict(xref="paper", yref="y2", x=PX(1866), y=last_price, xanchor="left", yanchor="middle",
                text=f"{last_price:.2f}", showarrow=False, bgcolor="#5d606b", width=60, height=14,
                borderpad=1, font=dict(family=FONT, size=11, color="#ffffff")))
ann.append(dict(xref="paper", yref="y2", x=PX(1866), y=last_price, xanchor="left", yanchor="middle",
                yshift=-17, text=countdown, showarrow=False, bgcolor="#5d606b", width=60, height=14,
                borderpad=1, font=dict(family=FONT, size=11, color="#ffffff")))
fig.update_layout(annotations=ann)

fig.write_html("out.html", config={"displayModeBar": False, "staticPlot": True},
               post_script="document.body.style.margin='0';document.body.style.overflow='hidden';")
